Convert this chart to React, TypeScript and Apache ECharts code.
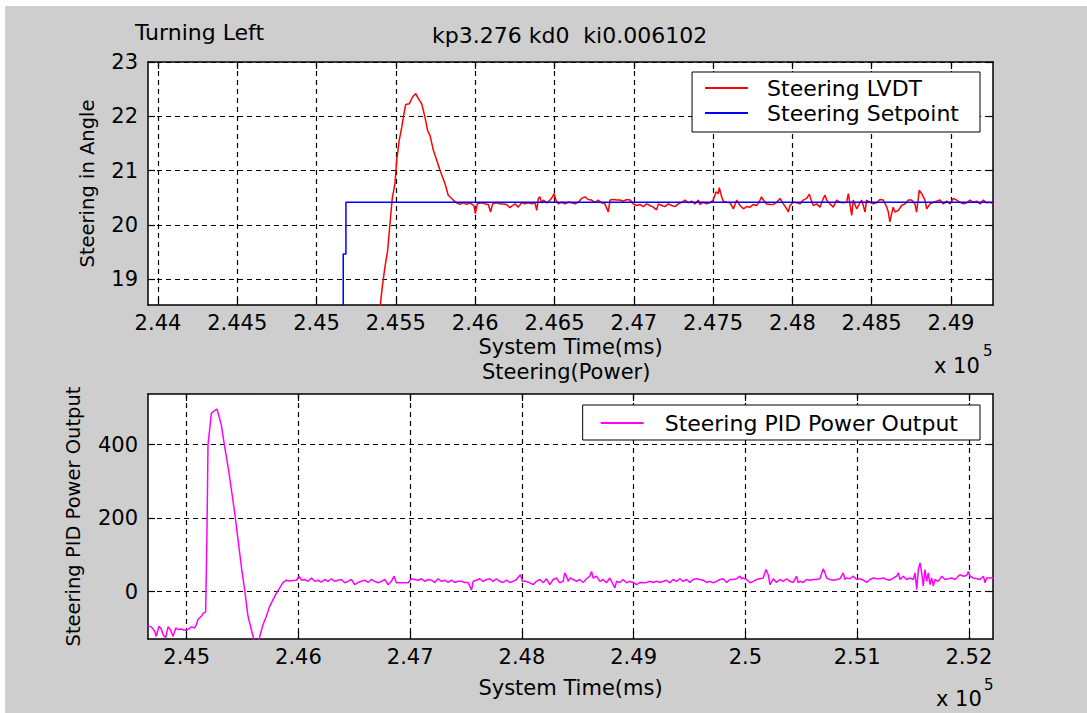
import React, { useEffect, useRef } from "react";
import * as echarts from "echarts";

const FONT = "DejaVu Sans";

// ---- top plot (Steering in Angle) ----
const topXMin = 243937;
const topXMax = 249265;
const topYMin = 18.53;
const topYMax = 23;
const topXTicks = [244000, 244500, 245000, 245500, 246000, 246500, 247000, 247500, 248000, 248500, 249000];
const topYTicks = [19, 20, 21, 22, 23];

const setpointData = [
  [243937, 17.0], [245168, 17.0], [245168, 19.47], [245185, 19.47], [245185, 20.42], [249265, 20.42],
];

const lvdtRise = [
  [243937, 17.6], [245390, 18.2], [245414, 18.86], [245431, 19.23], [245448, 19.53], [245463, 20.03],
  [245477, 20.49], [245494, 20.76], [245505, 21.19], [245521, 21.56], [245537, 21.8], [245551, 22.05],
  [245562, 22.22], [245584, 22.23], [245606, 22.36], [245625, 22.42], [245641, 22.33], [245663, 22.23],
  [245683, 21.99], [245700, 21.74], [245715, 21.65], [245736, 21.38], [245778, 21.01], [245810, 20.76],
  [245830, 20.55],
];

const lvdtNoiseA = [
  [245862, 20.46], [245883, 20.41], [245904, 20.38], [245925, 20.41], [245946, 20.38], [245967, 20.41],
  [245992, 20.36], [246001, 20.21], [246013, 20.39], [246041, 20.41], [246062, 20.39], [246083, 20.38],
  [246097, 20.24], [246110, 20.39], [246135, 20.41], [246156, 20.39], [246177, 20.39], [246198, 20.38],
  [246219, 20.32], [246236, 20.36], [246251, 20.39], [246272, 20.33], [246293, 20.41], [246314, 20.39],
  [246335, 20.41], [246356, 20.39], [246377, 20.41], [246388, 20.27], [246398, 20.49], [246408, 20.52],
  [246419, 20.41], [246430, 20.46], [246451, 20.41], [246472, 20.46], [246488, 20.52], [246497, 20.58],
  [246509, 20.46], [246524, 20.39], [246545, 20.42], [246566, 20.39], [246587, 20.42], [246608, 20.41],
  [246629, 20.39], [246650, 20.42], [246671, 20.49], [246692, 20.52], [246713, 20.47], [246734, 20.46],
  [246755, 20.42], [246776, 20.46], [246797, 20.41], [246818, 20.39], [246839, 20.24], [246850, 20.46],
  [246871, 20.47], [246892, 20.46], [246913, 20.46], [246934, 20.44], [246955, 20.47], [246976, 20.46],
  [246997, 20.39], [247018, 20.36], [247039, 20.38], [247060, 20.34], [247081, 20.39], [247102, 20.36],
  [247123, 20.33], [247144, 20.28], [247155, 20.39], [247176, 20.36], [247197, 20.34], [247218, 20.39],
  [247239, 20.36], [247260, 20.34], [247281, 20.39], [247302, 20.42], [247323, 20.46], [247344, 20.41],
  [247365, 20.44], [247386, 20.39], [247407, 20.46],
];

const lvdtNoiseB = [
  [247417, 20.38], [247438, 20.42], [247459, 20.39], [247480, 20.41], [247501, 20.46], [247518, 20.61],
  [247533, 20.58], [247539, 20.69], [247554, 20.52], [247564, 20.44], [247586, 20.42], [247607, 20.41],
  [247628, 20.3], [247649, 20.46], [247670, 20.36], [247691, 20.3], [247712, 20.34], [247733, 20.33],
  [247754, 20.38], [247775, 20.36], [247796, 20.46], [247806, 20.52], [247817, 20.46], [247838, 20.39],
  [247859, 20.38], [247880, 20.38], [247901, 20.42], [247922, 20.49], [247943, 20.39], [247964, 20.3],
  [247974, 20.24], [247985, 20.36], [248006, 20.42], [248027, 20.41], [248048, 20.39], [248069, 20.46],
  [248090, 20.49], [248107, 20.57], [248115, 20.49], [248132, 20.36], [248153, 20.39], [248174, 20.33],
  [248195, 20.49], [248206, 20.55], [248216, 20.46], [248237, 20.39], [248258, 20.33], [248279, 20.46],
  [248300, 20.42], [248321, 20.41], [248342, 20.42], [248353, 20.58], [248363, 20.39], [248374, 20.18],
  [248384, 20.46], [248405, 20.3], [248426, 20.41], [248437, 20.46], [248447, 20.36], [248458, 20.24],
  [248468, 20.46], [248489, 20.42], [248510, 20.39], [248531, 20.41], [248552, 20.47], [248573, 20.46],
  [248594, 20.34], [248605, 20.24], [248615, 20.06], [248626, 20.21], [248636, 20.33], [248647, 20.24],
  [248668, 20.27], [248689, 20.36], [248710, 20.39], [248731, 20.46], [248752, 20.46], [248773, 20.39],
  [248783, 20.24], [248800, 20.64], [248815, 20.58], [248826, 20.52], [248836, 20.46], [248847, 20.3],
  [248868, 20.39], [248889, 20.42], [248910, 20.44], [248931, 20.46], [248952, 20.39], [248973, 20.44],
  [248994, 20.39], [249015, 20.49], [249036, 20.46], [249057, 20.42], [249078, 20.39], [249099, 20.41],
  [249120, 20.46], [249141, 20.42], [249162, 20.44], [249183, 20.39], [249204, 20.46], [249225, 20.41],
  [249246, 20.42], [249267, 20.39],
];

// ---- bottom plot (Steering PID Power Output) ----
const botXMin = 244654;
const botXMax = 252216;
const botYMin = -129;
const botYMax = 538;
const botXTicks = [245000, 246000, 247000, 248000, 249000, 250000, 251000, 252000];
const botYTicks = [0, 200, 400];

const powerPre = [
  [244654, -94], [244684, -96], [244714, -108], [244728, -122], [244752, -94], [244773, -102],
  [244788, -117], [244812, -126], [244833, -96], [244854, -103], [244878, -122], [244902, -99],
  [244922, -103], [244952, -102], [244982, -105], [245012, -103], [245042, -96], [245072, -99],
  [245087, -90], [245101, -76], [245131, -67], [245152, -58], [245170, -56],
];

const powerPulse = [
  [245182, 169], [245191, 400], [245206, 441], [245221, 486], [245251, 493], [245272, 497],
  [245289, 477], [245310, 454], [245340, 395], [245370, 341], [245400, 278], [245430, 214],
  [245460, 141], [245489, 69], [245519, 5], [245549, -67], [245579, -103], [245609, -140],
  [245639, -140], [245663, -112], [245683, -90], [245713, -67], [245743, -40], [245773, -22],
  [245803, -4], [245833, 10], [245863, 25], [245892, 31], [245922, 29], [245952, 30], [245982, 31],
  [246006, 42],
];

const powerNoiseA = [
  [246027, 31], [246056, 33], [246086, 28], [246116, 37], [246146, 28], [246176, 31], [246206, 26],
  [246236, 33], [246265, 28], [246295, 35], [246325, 28], [246355, 31], [246385, 33], [246415, 24],
  [246444, 28], [246474, 33], [246504, 19], [246534, 25], [246564, 28], [246594, 31], [246624, 25],
  [246653, 33], [246683, 28], [246713, 24], [246743, 28], [246773, 33], [246803, 19], [246832, 28],
  [246856, 42], [246877, 24],
];

const powerNoiseB = [
  [246937, 24], [246982, 24], [247011, 35], [247041, 33], [247071, 31], [247101, 35], [247131, 28],
  [247161, 33], [247191, 31], [247220, 25], [247250, 35], [247280, 28], [247310, 31], [247340, 25],
  [247370, 31], [247399, 25], [247429, 28], [247459, 28], [247489, 25], [247519, 25], [247549, 4],
  [247564, 28], [247593, 31], [247623, 35], [247653, 28], [247683, 33], [247713, 35], [247743, 28],
  [247772, 35], [247802, 28], [247832, 25], [247862, 31], [247892, 25], [247922, 28], [247951, 33],
  [247975, 42], [247987, 46], [248005, 28], [248035, 28], [248071, 24], [248101, 19], [248131, 28],
  [248161, 33], [248190, 24], [248220, 35], [248250, 19], [248280, 33], [248310, 37], [248339, 24],
  [248369, 28], [248384, 51], [248399, 42], [248414, 28], [248429, 37], [248459, 33], [248489, 28],
  [248519, 33], [248548, 25], [248578, 35], [248608, 42], [248623, 55], [248638, 37], [248668, 42],
  [248698, 28], [248727, 33], [248757, 24], [248787, 37], [248817, 19], [248832, 10], [248847, 28],
  [248877, 25], [248906, 33], [248936, 24], [248966, 28], [248996, 25], [249026, 19], [249056, 25],
  [249085, 24], [249115, 25], [249145, 28], [249175, 25], [249205, 28], [249235, 25], [249265, 28],
  [249294, 31], [249324, 24], [249354, 33], [249384, 28], [249414, 35], [249444, 28], [249473, 33],
  [249503, 25],
];

const powerNoiseC = [
  [249533, 33], [249563, 35], [249593, 33], [249623, 31], [249653, 25], [249682, 28], [249712, 24],
  [249742, 28], [249772, 33], [249802, 35], [249832, 25], [249862, 33], [249891, 33], [249921, 35],
  [249951, 42], [249966, 35], [249981, 37], [250011, 33], [250041, 24], [250070, 28], [250100, 33],
  [250130, 35], [250160, 37], [250184, 60], [250205, 46], [250220, 19], [250250, 35], [250279, 25],
  [250309, 33], [250339, 28], [250369, 35], [250399, 28], [250429, 25], [250458, 42], [250473, 24],
  [250488, 28], [250518, 25], [250548, 33], [250578, 31], [250608, 33], [250637, 33], [250667, 35],
  [250697, 62], [250712, 51], [250727, 37], [250757, 33], [250787, 31], [250817, 33], [250846, 35],
  [250876, 51], [250891, 33], [250906, 37], [250936, 35], [250966, 42], [250995, 33], [251025, 35],
  [251055, 31], [251085, 25], [251115, 33], [251145, 37], [251175, 35], [251204, 35], [251234, 37],
  [251264, 33], [251294, 31], [251324, 37], [251354, 42], [251369, 51], [251384, 33], [251413, 42],
  [251443, 33], [251473, 37], [251503, 33], [251518, 51], [251533, 6], [251548, 60], [251563, 78],
  [251578, 51], [251592, 15], [251607, 60], [251622, 28], [251637, 51], [251652, 19], [251667, 37],
  [251682, 15], [251697, 33], [251727, 28], [251757, 42], [251786, 33], [251816, 35], [251846, 37],
  [251876, 33], [251906, 42], [251921, 46], [251951, 42], [251980, 44], [251995, 55], [252010, 42],
  [252040, 37], [252070, 35], [252100, 33], [252130, 42], [252145, 24], [252160, 37], [252189, 37],
  [252219, 37],
];

const BLACK = "#000000";
const GRAY = "#cecece";

const fmtE5 = (v: number) => String(Number((v / 1e5).toFixed(3)));

const gridLine = { show: true, lineStyle: { color: BLACK, width: 1.2, type: [5, 4] } };

function mainX(grid: number, min: number, max: number, ticks: number[], nameGap: number) {
  return {
    gridIndex: grid,
    type: "value",
    min,
    max,
    position: "bottom",
    name: "System Time(ms)",
    nameLocation: "middle",
    nameGap,
    nameTextStyle: { fontFamily: FONT, fontSize: 21, color: BLACK, lineHeight: 20 },
    axisLine: { show: true, onZero: false, lineStyle: { color: BLACK, width: 1.5 } },
    axisTick: { show: true, inside: true, length: 7, customValues: ticks, lineStyle: { color: BLACK, width: 1.2 } },
    axisLabel: {
      show: true,
      customValues: ticks,
      formatter: fmtE5,
      fontFamily: FONT,
      fontSize: 21,
      color: BLACK,
      margin: 7,
      showMinLabel: true,
      showMaxLabel: true,
    },
    splitLine: gridLine,
  };
}

function sideX(grid: number, min: number, max: number, ticks: number[]) {
  return {
    gridIndex: grid,
    type: "value",
    min,
    max,
    position: "top",
    axisLine: { show: true, onZero: false, lineStyle: { color: BLACK, width: 1.5 } },
    axisTick: { show: true, inside: true, length: 7, customValues: ticks, lineStyle: { color: BLACK, width: 1.2 } },
    axisLabel: { show: false },
    splitLine: { show: false },
  };
}

function mainY(grid: number, min: number, max: number, ticks: number[], name: string, nameGap: number) {
  return {
    gridIndex: grid,
    type: "value",
    min,
    max,
    position: "left",
    name,
    nameLocation: "middle",
    nameRotate: 90,
    nameGap,
    nameTextStyle: { fontFamily: FONT, fontSize: 19.5, color: BLACK },
    axisLine: { show: true, onZero: false, lineStyle: { color: BLACK, width: 1.5 } },
    axisTick: { show: true, inside: true, length: 7, customValues: ticks, lineStyle: { color: BLACK, width: 1.2 } },
    axisLabel: {
      show: true,
      customValues: ticks,
      fontFamily: FONT,
      fontSize: 21,
      color: BLACK,
      margin: 10,
      showMinLabel: true,
      showMaxLabel: true,
    },
    splitLine: gridLine,
  };
}

function sideY(grid: number, min: number, max: number, ticks: number[]) {
  return {
    gridIndex: grid,
    type: "value",
    min,
    max,
    position: "right",
    axisLine: { show: true, onZero: false, lineStyle: { color: BLACK, width: 1.5 } },
    axisTick: { show: true, inside: true, length: 7, customValues: ticks, lineStyle: { color: BLACK, width: 1.2 } },
    axisLabel: { show: false },
    splitLine: { show: false },
  };
}

const textStyleBase = { fontFamily: FONT, fontSize: 22, fontWeight: "normal", color: BLACK };

export default function App() {
  const ref = useRef<HTMLDivElement>(null);

  useEffect(() => {
    if (!ref.current) return;
    const chart = echarts.init(ref.current, null, { renderer: "svg" });

    const lvdtData = [...lvdtRise, ...lvdtNoiseA, ...lvdtNoiseB];
    const powerData = [...powerPre, ...powerPulse, ...powerNoiseA, ...powerNoiseB, ...powerNoiseC];

    const option = {
      animation: false,
      backgroundColor: "#ffffff",
      title: [
        { text: "Turning Left", left: 135, top: 21, padding: 0, textStyle: textStyleBase },
        { text: "kp3.276 kd0  ki0.006102", left: 432, top: 24, padding: 0, textStyle: textStyleBase },
        {
          text: "Steering(Power)",
          left: 482,
          top: 362,
          padding: 0,
          textStyle: { ...textStyleBase, fontSize: 21, lineHeight: 20 },
        },
      ],
      graphic: [
        { type: "rect", z: -100, silent: true, shape: { x: 5, y: 6, width: 1082, height: 707 }, style: { fill: GRAY } },
        { type: "text", x: 934, y: 355, style: { text: "x 10", fontFamily: FONT, fontSize: 21, fill: BLACK } },
        { type: "text", x: 983, y: 343, style: { text: "5", fontFamily: FONT, fontSize: 15, fill: BLACK } },
        { type: "text", x: 936, y: 688, style: { text: "x 10", fontFamily: FONT, fontSize: 21, fill: BLACK } },
        { type: "text", x: 984, y: 677, style: { text: "5", fontFamily: FONT, fontSize: 15, fill: BLACK } },
      ],
      legend: [
        {
          data: ["Steering LVDT", "Steering Setpoint"],
          orient: "vertical",
          right: 107,
          top: 72,
          padding: [5, 21, 8, 13],
          itemGap: 3,
          itemWidth: 43,
          itemHeight: 2,
          icon: "rect",
          backgroundColor: "#ffffff",
          borderColor: BLACK,
          borderWidth: 1,
          borderRadius: 0,
          textStyle: { fontFamily: FONT, fontSize: 22, color: BLACK, lineHeight: 22, padding: [0, 0, 0, 14] },
        },
        {
          data: ["Steering PID Power Output"],
          orient: "vertical",
          right: 107,
          top: 405,
          padding: [7, 22, 6, 18],
          itemWidth: 43,
          itemHeight: 2,
          icon: "rect",
          backgroundColor: "#ffffff",
          borderColor: BLACK,
          borderWidth: 1,
          borderRadius: 0,
          textStyle: { fontFamily: FONT, fontSize: 22, color: BLACK, lineHeight: 22, padding: [0, 0, 0, 16] },
        },
      ],
      grid: [
        { left: 148, top: 62, width: 845, height: 243, backgroundColor: "#ffffff", show: true, borderWidth: 0 },
        { left: 148, top: 394, width: 845, height: 245, backgroundColor: "#ffffff", show: true, borderWidth: 0 },
      ],
      xAxis: [
        mainX(0, topXMin, topXMax, topXTicks, 32),
        sideX(0, topXMin, topXMax, topXTicks),
        mainX(1, botXMin, botXMax, botXTicks, 39),
        sideX(1, botXMin, botXMax, botXTicks),
      ],
      yAxis: [
        mainY(0, topYMin, topYMax, topYTicks, "Steering in Angle", 51),
        sideY(0, topYMin, topYMax, topYTicks),
        mainY(1, botYMin, botYMax, botYTicks, "Steering PID Power Output", 65),
        sideY(1, botYMin, botYMax, botYTicks),
      ],
      series: [
        {
          name: "Steering LVDT",
          type: "line",
          xAxisIndex: 0,
          yAxisIndex: 0,
          data: lvdtData,
          symbol: "none",
          clip: true,
          color: "#ff0000",
          lineStyle: { color: "#ff0000", width: 1.5 },
        },
        {
          name: "Steering Setpoint",
          type: "line",
          xAxisIndex: 0,
          yAxisIndex: 0,
          data: setpointData,
          symbol: "none",
          clip: true,
          color: "#0000ff",
          lineStyle: { color: "#0000ff", width: 1.5 },
        },
        {
          name: "Steering PID Power Output",
          type: "line",
          xAxisIndex: 2,
          yAxisIndex: 2,
          data: powerData,
          symbol: "none",
          clip: true,
          color: "#ff00ff",
          lineStyle: { color: "#ff00ff", width: 1.5 },
        },
      ],
    };

    chart.setOption(option as any);
    return () => chart.dispose();
  }, []);

  return (
    <div
      ref={ref}
      style={{ position: "fixed", left: 0, top: 0, width: 1087, height: 713 }}
    />
  );
}
